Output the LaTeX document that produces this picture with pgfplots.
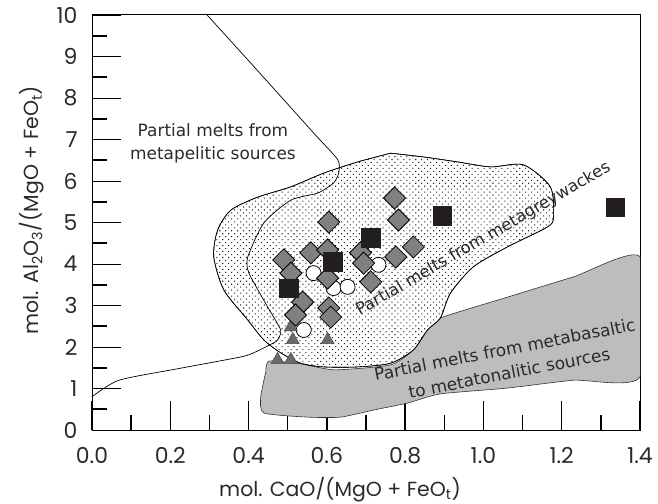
\documentclass[border=0pt]{standalone}
\usepackage{fontspec}
\setmainfont{Poppins}
\newfontfamily\lab{DejaVu Sans}
\usepackage{pgfplots}
\pgfplotsset{compat=1.18}
\usetikzlibrary{patterns.meta}
\definecolor{regiongray}{HTML}{BDBDBD}
\definecolor{diagray}{HTML}{808080}
\definecolor{sqblack}{HTML}{231F20}
\definecolor{trigray}{HTML}{6A6A6A}
\definecolor{txt}{HTML}{2A2A2A}
\begin{document}
\begin{tikzpicture}
\path[use as bounding box] (-92bp,-74bp) rectangle (566bp,430bp);
\begin{axis}[
  scale only axis,
  width=548bp, height=415bp,
  xmin=0, xmax=1.4, ymin=0, ymax=10,
  axis line style={line width=1pt, black},
  tick pos=left,
  tick align=inside,
  xtick={0,0.2,0.4,0.6,0.8,1.0,1.2,1.4},
  minor xtick={0.1,0.3,0.5,0.7,0.9,1.1,1.3},
  ytick={0,1,2,3,4,5,6,7,8,9,10},
  minor ytick={0.5,1.5,2.5,3.5,4.5,5.5,6.5,7.5,8.5,9.5},
  major tick length=29bp,
  minor tick length=15bp,
  major x tick style={line width=1.3pt, black},
  minor x tick style={line width=1.3pt, black},
  major y tick style={line width=0.8pt, black},
  minor y tick style={line width=2pt, black},
  /pgf/number format/assume math mode=true,
  xticklabel style={/pgf/number format/fixed, /pgf/number format/fixed zerofill, /pgf/number format/precision=1, yshift=-14bp},
  yticklabel style={xshift=-11bp},
  tick label style={font=\fontsize{22}{26}\selectfont, text=txt},
  label style={font=\fontsize{20.5}{24}\selectfont, text=txt},
  xlabel={mol. CaO/(MgO + FeO\textsubscript{t})},
  ylabel={mol. Al\textsubscript{2}O\textsubscript{3}/(MgO + FeO\textsubscript{t})},
  xlabel style={at={(axis description cs:0.4526,-0.1446)}, anchor=center},
  ylabel style={at={(axis description cs:-0.1095,0.53)}, anchor=center},
  clip=true,
]
% metabasaltic region
\addplot[draw=black!80, line width=0.6pt, fill=regiongray, smooth, tension=0.35] coordinates {
(0.444,1.40) (0.452,1.66) (0.530,1.60) (0.620,1.45) (0.763,1.57) (0.821,1.93) (0.857,2.41) (0.890,2.70) (1.061,3.20) (1.230,3.69) (1.40,4.17) (1.40,1.28) (1.230,1.20) (1.061,1.01) (0.890,0.87) (0.806,0.65) (0.719,0.48) (0.635,0.31) (0.551,0.31) (0.439,0.41) (0.431,0.80) (0.444,1.40)} -- cycle;
% metagreywackes region
\addplot[draw=black, line width=0.6pt, fill=white, postaction={pattern={Dots[distance=4.2bp, radius=0.75bp, angle=45]}, pattern color=black!85}, smooth, tension=0.45] coordinates {
(0.763,6.67) (0.847,6.58) (0.934,6.46) (1.018,6.34) (1.102,6.39) (1.171,5.86) (1.179,5.13) (1.163,4.89) (1.061,4.41) (0.974,3.93) (0.916,3.30) (0.890,2.70) (0.857,2.41) (0.821,1.93) (0.763,1.61) (0.679,1.52) (0.592,1.52) (0.533,1.61) (0.482,1.86) (0.439,2.17) (0.398,2.65) (0.337,3.37) (0.311,4.17) (0.321,4.82) (0.355,5.30) (0.423,5.61) (0.508,5.86) (0.592,6.19) (0.679,6.46) (0.763,6.67)} -- cycle;
% metapelitic boundary
\addplot[black, line width=0.7pt, smooth, tension=0.4] coordinates {
(0.294,10) (0.398,8.92) (0.566,7.16) (0.628,6.51) (0.630,6.19) (0.617,5.95) (0.577,5.71) (0.508,5.54) (0.439,4.99) (0.398,4.17) (0.401,3.78) (0.449,2.96) (0.482,2.41) (0.474,2.17) (0.464,2.10) (0.413,1.86) (0.380,1.76) (0.227,1.49) (0.069,1.20) (0,0.80)};
% circles
\addplot[only marks, mark=*, mark size=7.5bp, mark options={fill=white, draw=black, line width=0.8pt}] coordinates {
(0.566,3.78) (0.617,3.42) (0.653,3.45) (0.732,3.98) (0.541,2.41)};
% triangles
\addplot[only marks, mark=triangle*, mark size=7.5bp, mark options={fill=trigray, draw=black!70, line width=0.5pt}] coordinates {
(0.508,2.48) (0.513,2.17) (0.602,2.17) (0.474,1.69) (0.508,1.69)};
% diamonds
\addplot[only marks, mark=square*, mark size=7.8bp, mark options={rotate=45, fill=diagray, draw=black, line width=0.8pt}] coordinates {
(0.773,5.59) (0.783,5.06) (0.605,5.01) (0.490,4.10) (0.559,4.27) (0.602,4.34) (0.686,4.27) (0.694,4.02) (0.776,4.17) (0.821,4.41) (0.508,3.78) (0.602,3.66) (0.712,3.57) (0.538,3.08) (0.520,2.77) (0.605,2.94) (0.610,2.72)};
% squares
\addplot[only marks, mark=square*, mark size=9.2bp, mark options={fill=sqblack, draw=sqblack, line width=0.5pt}] coordinates {
(0.895,5.16) (0.712,4.63) (0.615,4.05) (0.503,3.42) (1.337,5.37)};
% labels
\node[font=\lab\fontsize{17}{23}\selectfont, text=txt, align=center] at (axis cs:0.309,6.90) {Partial melts from\\metapelitic sources};
\node[font=\lab\fontsize{16.5}{18}\selectfont, text=txt, rotate=30] at (axis cs:1.0,4.60) {Partial melts from metagreywackes};
\node[font=\lab\fontsize{17}{24}\selectfont, text=txt, rotate=11, align=center] at (axis cs:1.06,1.66) {Partial melts from metabasaltic\\to metatonalitic sources};
% frame overhangs
\draw[line width=1pt] ([xshift=-17bp]axis cs:0,10) -- (axis cs:0,10);
\draw[line width=1pt] ([xshift=-17bp]axis cs:0,0) -- (axis cs:0,0);
\draw[line width=1pt] ([yshift=-17bp]axis cs:0,0) -- (axis cs:0,0);
\draw[line width=1pt] ([yshift=-17bp]axis cs:1.4,0) -- (axis cs:1.4,0);
\end{axis}
\end{tikzpicture}
\end{document}
